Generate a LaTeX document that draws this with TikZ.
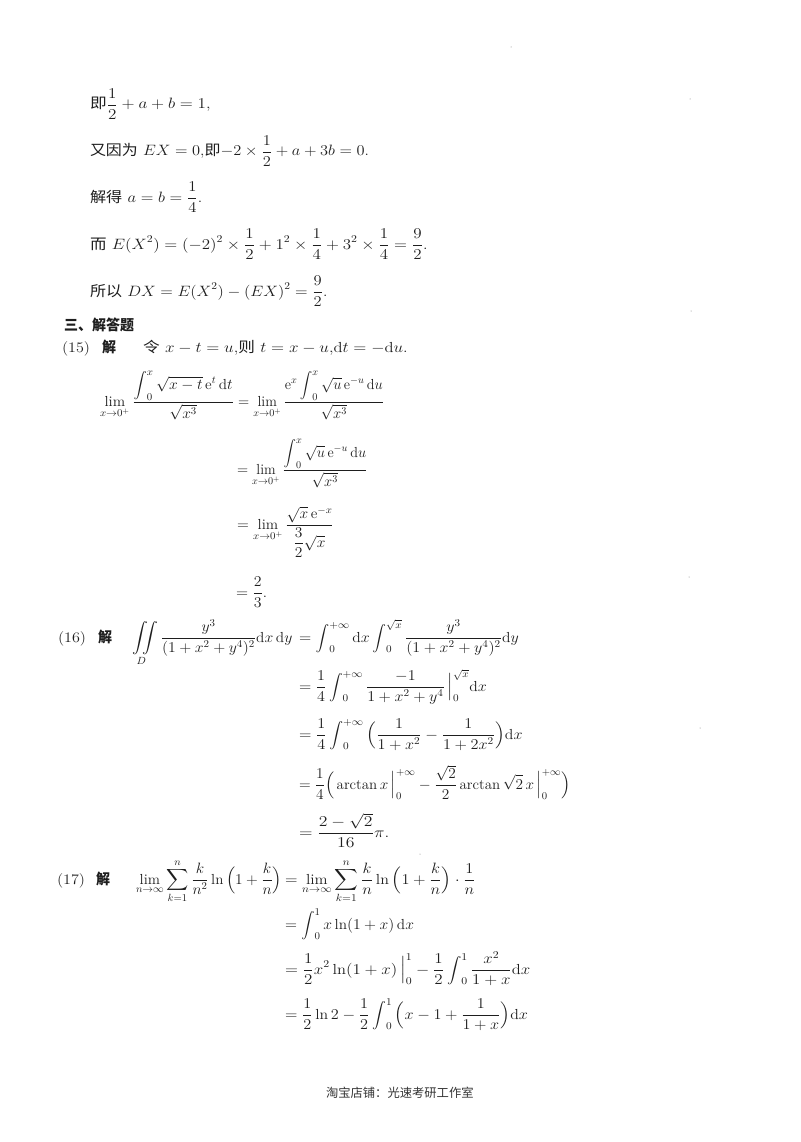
\documentclass[tikz,border=0pt]{standalone}
\usepackage{amsmath}
\usepackage{fontspec}
\newfontfamily\cjk{Noto Sans CJK SC}
\newcommand{\zh}[1]{{\cjk #1}}
\newcommand{\zb}[1]{{\cjk\bfseries #1}}
\newcommand{\ud}{\mathrm{d}}
\newcommand{\ue}{\mathrm{e}}
\newcommand{\sint}{\mathop{\vcenter{\hbox{\scalebox{.85}{$\displaystyle\int$}}}}\nolimits}
\definecolor{ink}{HTML}{1E1E1E}
\tikzset{
  eq/.style={anchor=base west,inner sep=0pt,outer sep=0pt,text=ink,yscale=1.04,font=\fontsize{14}{17}\selectfont},
  foot/.style={anchor=base west,inner sep=0pt,outer sep=0pt,text=ink!90,font=\fontsize{12.3}{15}\selectfont},
  speck/.style={circle,fill=gray,inner sep=0pt,minimum size=1pt}
}
\begin{document}
\begin{tikzpicture}[x=1pt,y=-1pt]
\useasboundingbox (0,0) rectangle (800,1142);
\fill[white] (0,0) rectangle (800,1142);
% page specks
\node[speck] (s1) at (511,47) {};
\node[speck] (s2) at (690,99) {};
\node[speck] (s3) at (691,311) {};
\node[speck] (s4) at (689,577) {};
\node[speck] (s5) at (700,728) {};
\node[speck] (s6) at (420,854) {};
% top part
\node[eq,xscale=1.19] (a1) at (90,109) {\zh{即}$\displaystyle\frac12+a+b=1$,};
\node[eq,xscale=1.14] (a2) at (90,156) {\zh{又因为} $EX=0$,\zh{即}$\displaystyle-2\times\frac12+a+3b=0$.};
\node[eq,xscale=1.155] (a3) at (90,202) {\zh{解得} $\displaystyle a=b=\frac14$.};
\node[eq,xscale=1.18] (a4) at (90,249) {\zh{而} $\displaystyle E(X^2)=(-2)^2\times\frac12+1^2\times\frac14+3^2\times\frac14=\frac92$.};
\node[eq,xscale=1.145] (a5) at (90,296) {\zh{所以} $\displaystyle DX=E(X^2)-(EX)^2=\frac92$.};
\node[eq] (h) at (64,330) {\zb{三、解答题}};
% 15
\node[eq,xscale=1.15] (n15) at (62,352) {(15)};
\node[eq] (j15) at (102,352) {\zb{解}};
\node[eq,xscale=1.19] (l15) at (143,352) {\zh{令} $x-t=u$,\zh{则} $t=x-u$,$\ud t=-\ud u$.};
\node[eq,xscale=1.085] (p1) at (100,406) {$\displaystyle\lim_{x\to0^+}\frac{\sint_0^x\sqrt{x-t}\,\ue^t\,\ud t}{\sqrt{x^3}}$};
\node[eq,xscale=1.02] (p2) at (238,406) {$\displaystyle=\lim_{x\to0^+}\frac{\ue^x\sint_0^x\sqrt{u}\,\ue^{-u}\,\ud u}{\sqrt{x^3}}$};
\node[eq,xscale=1.015] (p3) at (237,474) {$\displaystyle=\lim_{x\to0^+}\frac{\sint_0^x\sqrt{u}\,\ue^{-u}\,\ud u}{\sqrt{x^3}}$};
\node[eq,xscale=1.08] (p4) at (237,529) {$\displaystyle=\lim_{x\to0^+}\frac{\sqrt{x}\,\ue^{-x}}{\dfrac32\sqrt{x}}$};
\node[eq,xscale=1.1] (p5) at (236,597) {$\displaystyle=\frac23$.};
% 16
\node[eq,xscale=1.15] (n16) at (58,642) {(16)};
\node[eq] (j16) at (98,642) {\zb{解}};
\node[eq,xscale=1.095] (q1) at (132,642) {$\displaystyle\iint\limits_D\frac{y^3}{(1+x^2+y^4)^2}\ud x\,\ud y$};
\node[eq,xscale=1.115] (q1b) at (299,642) {$\displaystyle=\sint_0^{+\infty}\ud x\sint_0^{\sqrt{x}}\frac{y^3}{(1+x^2+y^4)^2}\ud y$};
\node[eq,xscale=1.12] (q2) at (299,691) {$\displaystyle=\frac14\sint_0^{+\infty}\frac{-1}{1+x^2+y^4}\,\Big|_0^{\sqrt{x}}\ud x$};
\node[eq,xscale=1.13] (q3) at (299,739) {$\displaystyle=\frac14\sint_0^{+\infty}\Big(\frac{1}{1+x^2}-\frac{1}{1+2x^2}\Big)\ud x$};
\node[eq,xscale=1.065] (q4) at (299,789) {$\displaystyle=\frac14\Big(\arctan x\,\Big|_0^{+\infty}-\frac{\sqrt2}{2}\arctan\sqrt2\,x\,\Big|_0^{+\infty}\Big)$};
\node[eq,xscale=1.23] (q5) at (299,837) {$\displaystyle=\frac{2-\sqrt2}{16}\pi$.};
% 17
\node[eq,xscale=1.15] (n17) at (57,884) {(17)};
\node[eq] (j17) at (96,884) {\zb{解}};
\node[eq,xscale=1.07] (r1) at (136,884) {$\displaystyle\lim_{n\to\infty}\sum_{k=1}^n\frac{k}{n^2}\ln\Big(1+\frac kn\Big)$};
\node[eq,xscale=1.14] (r1b) at (285,884) {$\displaystyle=\lim_{n\to\infty}\sum_{k=1}^n\frac{k}{n}\ln\Big(1+\frac kn\Big)\cdot\frac1n$};
\node[eq,xscale=1.09] (r2) at (285,929) {$\displaystyle=\sint_0^1x\ln(1+x)\,\ud x$};
\node[eq,xscale=1.18] (r3) at (285,974) {$\displaystyle=\frac12x^2\ln(1+x)\,\Big|_0^1-\frac12\sint_0^1\frac{x^2}{1+x}\ud x$};
\node[eq,xscale=1.13] (r4) at (285,1019) {$\displaystyle=\frac12\ln2-\frac12\sint_0^1\Big(x-1+\frac{1}{1+x}\Big)\ud x$};
% footer
\node[foot] (f) at (326,1097) {\zh{淘宝店铺：光速考研工作室}};
\end{tikzpicture}
\end{document}
